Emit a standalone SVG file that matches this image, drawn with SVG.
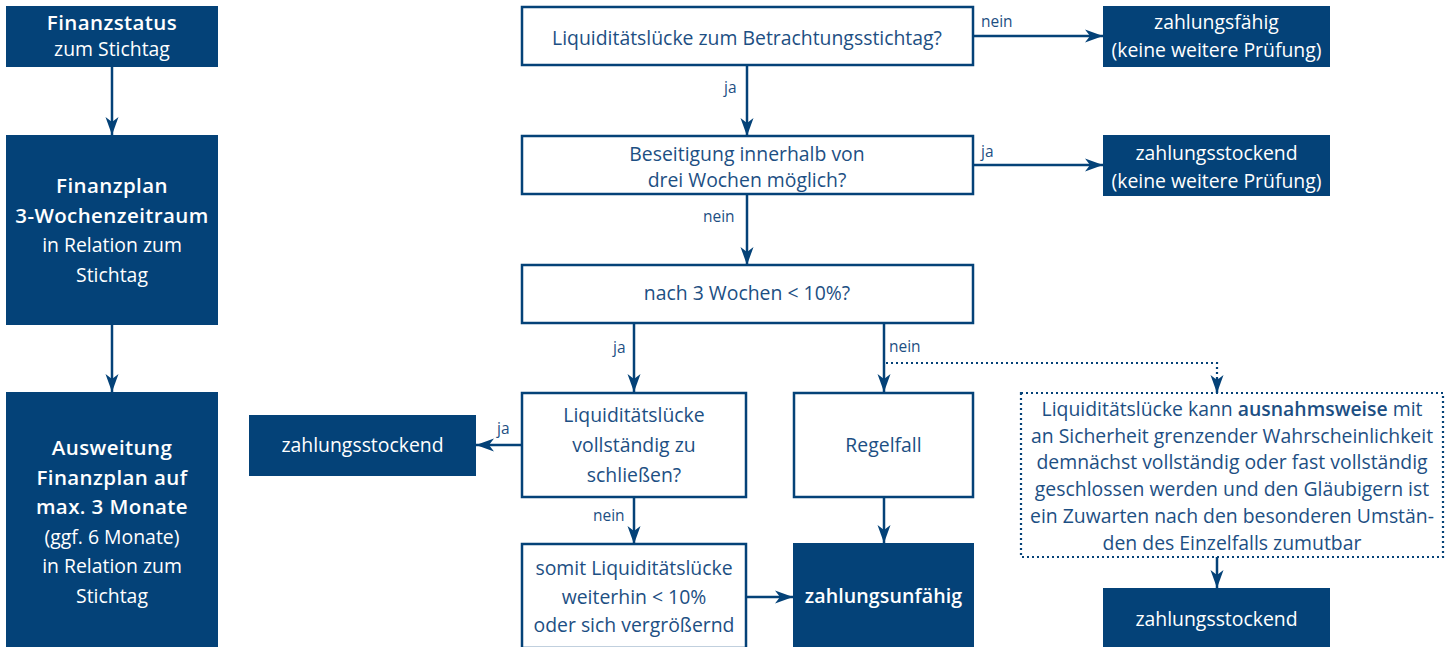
<svg xmlns="http://www.w3.org/2000/svg" width="1454" height="647" viewBox="0 0 1454 647">
<style>
.dark{fill:#044278}
.box{fill:#fff;stroke:#044278;stroke-width:2.5}
.dot{fill:none;stroke:#044278;stroke-width:2.2;stroke-dasharray:2 3}
.t{font-family:"Open Sans","Noto Sans",sans-serif;font-size:19.4px;text-anchor:middle}
.w{fill:#ffffff}
.b{fill:#1d4f83}
.sb{font-weight:600;font-size:20.5px;letter-spacing:0.4px}
.zu{font-weight:600;font-size:19.6px;letter-spacing:0.1px}
.lbl{font-family:"Open Sans","Noto Sans",sans-serif;font-size:15.5px;fill:#1d4f83}
.ln{fill:none;stroke:#044278;stroke-width:2.5}
</style>
<defs>
<marker id="ah" markerUnits="userSpaceOnUse" markerWidth="20" markerHeight="14" refX="18" refY="7" orient="auto">
<path d="M0,0.5 L18,7 L0,13.5 L5,7 z" fill="#044278"/>
</marker>
</defs>
<rect width="1454" height="647" fill="#fff"/>

<g id="connectors">
<path class="ln" d="M112,67 V135" marker-end="url(#ah)"/>
<path class="ln" d="M112,325 V392" marker-end="url(#ah)"/>
<path class="ln" d="M747,65 V136" marker-end="url(#ah)"/>
<path class="ln" d="M973,36 H1103" marker-end="url(#ah)"/>
<path class="ln" d="M973,165 H1103" marker-end="url(#ah)"/>
<path class="ln" d="M747,194 V265" marker-end="url(#ah)"/>
<path class="ln" d="M634,323 V392" marker-end="url(#ah)"/>
<path class="ln" d="M884,323 V392" marker-end="url(#ah)"/>
<path class="dot" d="M886,363 H1217 V378"/>
<path class="ln" d="M1217,378 V393" marker-end="url(#ah)"/>
<path class="ln" d="M522,445 H476" marker-end="url(#ah)"/>
<path class="ln" d="M634,497 V544" marker-end="url(#ah)"/>
<path class="ln" d="M884,497 V543" marker-end="url(#ah)"/>
<path class="ln" d="M746,597 H793" marker-end="url(#ah)"/>
<path class="ln" d="M1217,557 V588" marker-end="url(#ah)"/>
<text class="lbl" x="724" y="93">ja</text>
<text class="lbl" x="981" y="27">nein</text>
<text class="lbl" x="981" y="157">ja</text>
<text class="lbl" x="703" y="222">nein</text>
<text class="lbl" x="613" y="353">ja</text>
<text class="lbl" x="889" y="352">nein</text>
<text class="lbl" x="497" y="434">ja</text>
<text class="lbl" x="593" y="521">nein</text>
</g>

<g id="finanzstatus">
<rect class="dark" x="6" y="6" width="212" height="61"/>
<text class="t w" x="112" y="30"><tspan class="sb">Finanzstatus</tspan><tspan x="112" dy="26">zum Stichtag</tspan></text>
</g>
<g id="finanzplan">
<rect class="dark" x="6" y="135" width="212" height="190"/>
<text class="t w" x="112" y="193"><tspan class="sb">Finanzplan</tspan><tspan class="sb" x="112" dy="29.5">3-Wochenzeitraum</tspan><tspan x="112" dy="29.5">in Relation zum</tspan><tspan x="112" dy="29.5">Stichtag</tspan></text>
</g>
<g id="ausweitung">
<rect class="dark" x="6" y="392" width="212" height="255"/>
<text class="t w" x="112" y="455"><tspan class="sb">Ausweitung</tspan><tspan class="sb" x="112" dy="29.5">Finanzplan auf</tspan><tspan class="sb" x="112" dy="29.5">max. 3 Monate</tspan><tspan x="112" dy="29.5">(ggf. 6 Monate)</tspan><tspan x="112" dy="29.5">in Relation zum</tspan><tspan x="112" dy="29.5">Stichtag</tspan></text>
</g>

<g id="q1">
<rect class="box" x="522" y="7" width="451" height="58"/>
<text class="t b" x="747" y="45">Liquiditätslücke zum Betrachtungsstichtag?</text>
</g>
<g id="q2">
<rect class="box" x="522" y="136" width="451" height="58"/>
<text class="t b" x="747" y="161"><tspan>Beseitigung innerhalb von</tspan><tspan x="747" dy="26">drei Wochen möglich?</tspan></text>
</g>
<g id="q3">
<rect class="box" x="522" y="265" width="451" height="58"/>
<text class="t b" x="747" y="300">nach 3 Wochen &lt; 10%?</text>
</g>
<g id="zahlungsfaehig">
<rect class="dark" x="1103" y="6" width="227" height="61"/>
<text class="t w" x="1216.5" y="29"><tspan>zahlungsfähig</tspan><tspan x="1216.5" dy="27.5">(keine weitere Prüfung)</tspan></text>
</g>
<g id="zahlungsstockend1">
<rect class="dark" x="1103" y="135" width="227" height="61"/>
<text class="t w" x="1216.5" y="160"><tspan>zahlungsstockend</tspan><tspan x="1216.5" dy="27.5">(keine weitere Prüfung)</tspan></text>
</g>
<g id="q4">
<rect class="box" x="522" y="393" width="224" height="104"/>
<text class="t b" x="634" y="422"><tspan>Liquiditätslücke</tspan><tspan x="634" dy="30">vollständig zu</tspan><tspan x="634" dy="30">schließen?</tspan></text>
</g>
<g id="zahlungsstockend2">
<rect class="dark" x="249" y="415" width="227" height="61"/>
<text class="t w" x="362.5" y="452">zahlungsstockend</text>
</g>
<g id="somit">
<rect class="box" x="522" y="544" width="224" height="104"/>
<text class="t b" x="634" y="575"><tspan>somit Liquiditätslücke</tspan><tspan x="634" dy="28.5">weiterhin &lt; 10%</tspan><tspan x="634" dy="28.5">oder sich vergrößernd</tspan></text>
</g>
<g id="regelfall">
<rect class="box" x="794" y="393" width="179" height="104"/>
<text class="t b" x="883.5" y="452">Regelfall</text>
</g>
<g id="zahlungsunfaehig">
<rect class="dark" x="793" y="543" width="181" height="104"/>
<text class="t w" x="883.5" y="603"><tspan class="zu">zahlungsunfähig</tspan></text>
</g>
<g id="ausnahme">
<rect class="dot" x="1021" y="393" width="422" height="164"/>
<text class="t b" x="1232" y="416"><tspan>Liquiditätslücke kann <tspan font-weight="600">ausnahmsweise</tspan> mit</tspan><tspan x="1232" dy="26.7">an Sicherheit grenzender Wahrscheinlichkeit</tspan><tspan x="1232" dy="26.7">demnächst vollständig oder fast vollständig</tspan><tspan x="1232" dy="26.7">geschlossen werden und den Gläubigern ist</tspan><tspan x="1232" dy="26.7">ein Zuwarten nach den besonderen Umstän-</tspan><tspan x="1232" dy="26.7">den des Einzelfalls zumutbar</tspan></text>
</g>
<g id="zahlungsstockend3">
<rect class="dark" x="1103" y="588" width="227" height="59"/>
<text class="t w" x="1216.5" y="626">zahlungsstockend</text>
</g>
</svg>
